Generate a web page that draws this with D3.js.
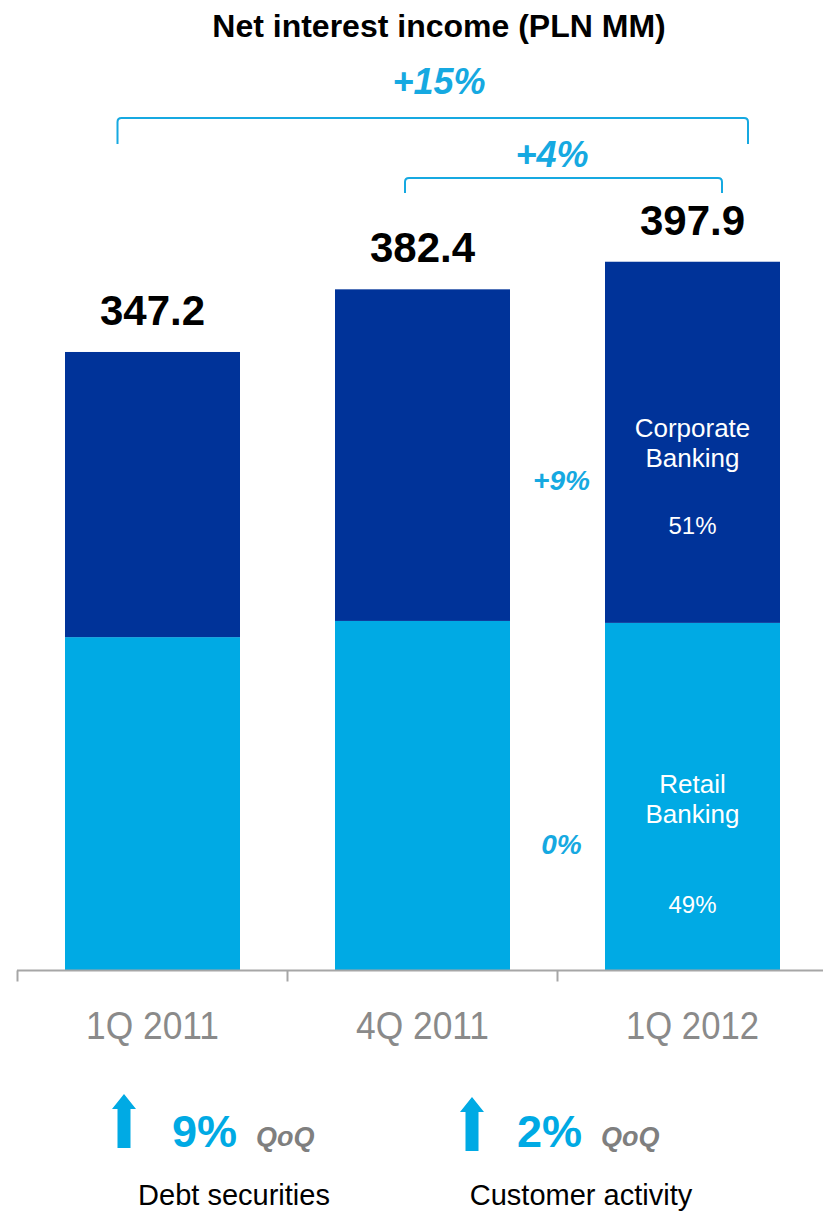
<!DOCTYPE html>
<html>
<head>
<meta charset="utf-8">
<script src="https://cdn.jsdelivr.net/npm/d3@7"></script>
<style>
  html, body { margin: 0; padding: 0; background: #ffffff; }
  svg { display: block; font-family: "Liberation Sans", Arial, sans-serif; }
</style>
</head>
<body>
<svg id="chart" width="823" height="1211"></svg>
<script>
// Net interest income by segment, PLN MM
const quarters  = ["1Q 2011", "4Q 2011", "1Q 2012"];
const retail    = [187.0, 196.1, 195.0];
const corporate = [160.2, 186.3, 202.9];
const totals    = ["347.2", "382.4", "397.9"];

const colors = { corporate: "#003399", retail: "#00aae4", accent: "#16a9e1", axis: "#a6a6a6", tick: "#8a8a8a" };

const svg = d3.select("#chart");
const W = 823;

const x = d3.scaleBand().domain(quarters).range([17.5, 827.5]).paddingInner(95 / 270).paddingOuter(95 / 540);
const y = d3.scaleLinear().domain([0, 400]).range([970, 258]);

const rows = quarters.map((q, i) => ({ q, retail: retail[i], corporate: corporate[i], total: totals[i] }));
const stack = d3.stack().keys(["retail", "corporate"])(rows);

// Title
svg.append("text")
  .attr("x", 439).attr("y", 37)
  .attr("text-anchor", "middle")
  .attr("font-size", 32).attr("font-weight", "bold").attr("fill", "#000")
  .text("Net interest income (PLN MM)");

// Stacked bars
svg.append("g").selectAll("g")
  .data(stack).join("g")
  .attr("fill", d => colors[d.key])
  .selectAll("rect")
  .data(d => d).join("rect")
  .attr("x", d => x(d.data.q))
  .attr("width", x.bandwidth())
  .attr("y", d => y(d[1]))
  .attr("height", d => y(d[0]) - y(d[1]));

// Totals above bars
svg.append("g").selectAll("text")
  .data(rows).join("text")
  .attr("x", d => x(d.q) + x.bandwidth() / 2)
  .attr("y", d => y(d.retail + d.corporate) - 27)
  .attr("text-anchor", "middle")
  .attr("font-size", 42).attr("font-weight", "bold").attr("fill", "#000")
  .text(d => d.total);

// X axis with ticks at band boundaries
const axisY = 970.5;
const ax = svg.append("g").attr("stroke", colors.axis).attr("stroke-width", 2);
ax.append("line").attr("x1", 17).attr("x2", W).attr("y1", axisY).attr("y2", axisY);
quarters.forEach(q => {
  const bx = x(q) - x.step() * x.paddingInner() / 2;
  ax.append("line").attr("x1", bx).attr("x2", bx).attr("y1", axisY).attr("y2", axisY + 11);
});
svg.append("g").selectAll("text")
  .data(quarters).join("text")
  .attr("x", q => x(q) + x.bandwidth() / 2)
  .attr("y", 1039)
  .attr("text-anchor", "middle")
  .attr("font-size", 38).attr("fill", colors.tick)
  .attr("textLength", 133).attr("lengthAdjust", "spacingAndGlyphs")
  .text(q => q);

// Growth brackets
function bracket(x1, x2, yTop, yBot, label, ly, lx) {
  const r = 4;
  svg.append("path")
    .attr("d", `M${x1},${yBot} L${x1},${yTop + r} Q${x1},${yTop} ${x1 + r},${yTop} L${x2 - r},${yTop} Q${x2},${yTop} ${x2},${yTop + r} L${x2},${yBot}`)
    .attr("fill", "none").attr("stroke", colors.accent).attr("stroke-width", 2);
  svg.append("text")
    .attr("x", lx).attr("y", ly)
    .attr("text-anchor", "middle")
    .attr("font-size", 36).attr("font-weight", "bold").attr("font-style", "italic")
    .attr("fill", colors.accent)
    .text(label);
}
const cx = q => x(q) + x.bandwidth() / 2;
bracket(cx(quarters[0]) - 35, cx(quarters[2]) + 55.5, 118, 144, "+15%", 94, 439);
bracket(cx(quarters[1]) - 17.5, cx(quarters[2]) + 29.5, 178, 193, "+4%", 167, 552);

// Segment change between 4Q 2011 and 1Q 2012
const gapX = (x(quarters[1]) + x.bandwidth() + x(quarters[2])) / 2 + 4;
[["+9%", 490], ["0%", 854]].forEach(([t, ty]) => {
  svg.append("text")
    .attr("x", gapX).attr("y", ty)
    .attr("text-anchor", "middle")
    .attr("font-size", 28).attr("font-weight", "bold").attr("font-style", "italic")
    .attr("fill", colors.accent)
    .text(t);
});

// Segment labels inside the last bar
const last = rows[2];
const lcx = cx(last.q);
const segLabels = [
  { lines: ["Corporate", "Banking"], pct: "51%", top: y(last.retail + last.corporate), lineOff: 175, pctOff: 272 },
  { lines: ["Retail", "Banking"], pct: "49%", top: y(last.retail), lineOff: 170, pctOff: 290 }
];
segLabels.forEach(s => {
  const t = svg.append("text")
    .attr("text-anchor", "middle").attr("font-size", 26).attr("fill", "#fff");
  s.lines.forEach((ln, i) => {
    t.append("tspan").attr("x", lcx).attr("y", s.top + s.lineOff + i * 30).text(ln);
  });
  svg.append("text")
    .attr("x", lcx).attr("y", s.top + s.pctOff)
    .attr("text-anchor", "middle").attr("font-size", 24).attr("fill", "#fff")
    .text(s.pct);
});

// Quarter-on-quarter drivers
const drivers = [
  { arrowX: 124, pct: "9%", pctX: 172, qoqX: 256, caption: "Debt securities", capX: 234, top: 1094, bottom: 1148 },
  { arrowX: 472, pct: "2%", pctX: 517, qoqX: 601, caption: "Customer activity", capX: 581, top: 1097, bottom: 1151 }
];
drivers.forEach(d => {
  const hw = 12, sw = 6.5, hh = 15;
  svg.append("path")
    .attr("d", `M${d.arrowX},${d.top} L${d.arrowX + hw},${d.top + hh} L${d.arrowX + sw},${d.top + hh} L${d.arrowX + sw},${d.bottom} L${d.arrowX - sw},${d.bottom} L${d.arrowX - sw},${d.top + hh} L${d.arrowX - hw},${d.top + hh} Z`)
    .attr("fill", colors.retail);
  svg.append("text")
    .attr("x", d.pctX).attr("y", 1147)
    .attr("font-size", 45).attr("font-weight", "bold").attr("fill", colors.retail)
    .text(d.pct);
  svg.append("text")
    .attr("x", d.qoqX).attr("y", 1146)
    .attr("font-size", 27).attr("font-weight", "bold").attr("font-style", "italic").attr("fill", "#7f7f7f")
    .text("QoQ");
  svg.append("text")
    .attr("x", d.capX).attr("y", 1205)
    .attr("text-anchor", "middle")
    .attr("font-size", 29).attr("fill", "#000")
    .text(d.caption);
});
</script>
</body>
</html>
